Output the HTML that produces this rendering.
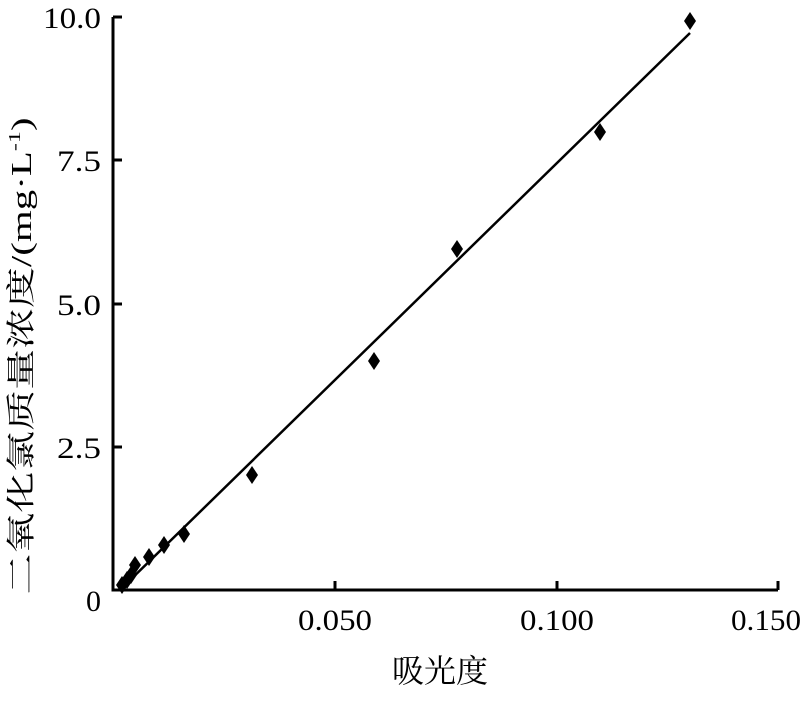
<!DOCTYPE html>
<html><head><meta charset="utf-8"><style>body{margin:0;background:#fff}</style></head><body>
<svg width="801" height="698" xmlns="http://www.w3.org/2000/svg" font-family="Liberation Serif, Noto Serif CJK SC, serif">
<g stroke="#000" stroke-width="3" fill="none">
<polyline points="113,17 113,590 778,590"/>
<line x1="113" y1="17" x2="122" y2="17"/>
<line x1="113" y1="160" x2="122" y2="160"/>
<line x1="113" y1="304" x2="122" y2="304"/>
<line x1="113" y1="447" x2="122" y2="447"/>
<line x1="335" y1="590" x2="335" y2="581"/>
<line x1="557" y1="590" x2="557" y2="581"/>
<line x1="778" y1="590" x2="778" y2="581"/>
<line x1="120" y1="590" x2="690" y2="33" stroke-width="2.5"/>
</g>
<g font-size="30" text-anchor="end">
<text x="101" y="28" textLength="58" lengthAdjust="spacingAndGlyphs">10.0</text>
<text x="101" y="171" textLength="44" lengthAdjust="spacingAndGlyphs">7.5</text>
<text x="101" y="315" textLength="44" lengthAdjust="spacingAndGlyphs">5.0</text>
<text x="101" y="458" textLength="44" lengthAdjust="spacingAndGlyphs">2.5</text>
<text x="101" y="611">0</text>
</g>
<g font-size="30" text-anchor="middle">
<text x="335" y="630" textLength="74" lengthAdjust="spacingAndGlyphs">0.050</text>
<text x="557" y="630" textLength="74" lengthAdjust="spacingAndGlyphs">0.100</text>
<text x="766" y="630" textLength="70" lengthAdjust="spacingAndGlyphs">0.150</text>
<text x="440" y="682" font-size="32">吸光度</text>
</g>
<text transform="translate(31,356) rotate(-90)" font-size="29" text-anchor="middle" textLength="477" lengthAdjust="spacingAndGlyphs">二氧化氯质量浓度/(mg·L<tspan font-size="17" dy="-11">-1</tspan><tspan dy="11">)</tspan></text>
<g fill="#000">
<path d="M0,-9 L6,0 L0,9 L-6,0Z" transform="translate(122,585)"/>
<path d="M0,-9 L6,0 L0,9 L-6,0Z" transform="translate(127,580)"/>
<path d="M0,-9 L6,0 L0,9 L-6,0Z" transform="translate(131,575)"/>
<path d="M0,-9 L6,0 L0,9 L-6,0Z" transform="translate(135,565)"/>
<path d="M0,-9 L6,0 L0,9 L-6,0Z" transform="translate(149,557)"/>
<path d="M0,-9 L6,0 L0,9 L-6,0Z" transform="translate(164,545)"/>
<path d="M0,-9 L6,0 L0,9 L-6,0Z" transform="translate(184,534)"/>
<path d="M0,-9 L6,0 L0,9 L-6,0Z" transform="translate(252,475)"/>
<path d="M0,-9 L6,0 L0,9 L-6,0Z" transform="translate(374,361)"/>
<path d="M0,-9 L6,0 L0,9 L-6,0Z" transform="translate(457,249)"/>
<path d="M0,-9 L6,0 L0,9 L-6,0Z" transform="translate(600,132)"/>
<path d="M0,-9 L6,0 L0,9 L-6,0Z" transform="translate(690,21)"/>
</g>
</svg>
</body></html>
